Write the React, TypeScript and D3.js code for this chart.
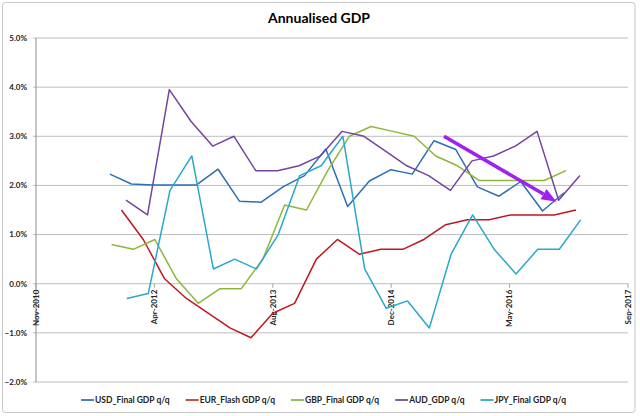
import { useRef, useEffect } from 'react';
import * as d3 from 'd3';

const W = 640;
const H = 416;

const SERIES_NAMES = ['USD_Final GDP q/q', 'EUR_Flash GDP q/q', 'GBP_Final GDP q/q', 'AUD_GDP q/q', 'JPY_Final GDP q/q'];
const SERIES_COLORS = ['#2C6FB7', '#C0171F', '#8DB73A', '#7444A0', '#2AA8CA'];
const LEGEND_COLORS = ['#4F81BD', '#C0504D', '#9BBB59', '#8064A2', '#4BACC6'];
// release date of the first print of each series, then one print per quarter
const FIRST_RELEASE = ['2011-09-28', '2011-11-16', '2011-10-05', '2011-12-05', '2011-12-08'];

const USD = [2.23, 2.03, 2.01, 2.01, 2.01, 2.33, 1.68, 1.66, 1.97, 2.2, 2.74, 1.57, 2.09, 2.32, 2.23, 2.91, 2.73, 1.97, 1.78, 2.08, 1.48, 1.85];
const EUR = [1.5, 0.9, 0.1, -0.3, -0.6, -0.9, -1.1, -0.6, -0.4, 0.5, 0.9, 0.6, 0.7, 0.7, 0.9, 1.2, 1.3, 1.3, 1.4, 1.4, 1.4, 1.5];
const GBP = [0.8, 0.7, 0.9, 0.1, -0.4, -0.1, -0.1, 0.5, 1.6, 1.5, 2.3, 3.0, 3.2, 3.1, 3.0, 2.6, 2.4, 2.1, 2.1, 2.1, 2.1, 2.3];
const AUD = [1.7, 1.4, 3.95, 3.3, 2.8, 3.0, 2.3, 2.3, 2.4, 2.6, 3.1, 3.0, 2.7, 2.4, 2.2, 1.9, 2.5, 2.6, 2.8, 3.1, 1.7, 2.2];
const JPY = [-0.3, -0.2, 1.9, 2.6, 0.3, 0.5, 0.3, 1.0, 2.2, 2.4, 3.0, 0.3, -0.5, -0.35, -0.9, 0.6, 1.4, 0.7, 0.2, 0.7, 0.7, 1.3];
const SERIES_VALUES = [USD, EUR, GBP, AUD, JPY];

const X_TICKS = ['2010-11-20', '2012-04-03', '2013-08-16', '2014-12-29', '2016-05-12', '2017-09-24'];
const Y_TICKS = [5, 4, 3, 2, 1, 0, -1, -2];

// hand-drawn trend arrow, in data coordinates
const ARROW_FROM = { date: '2015-08-09', value: 3.0 };
const ARROW_TO = { date: '2016-11-26', value: 1.67 };

const FONT = 'Lato, "Open Sans", sans-serif';

export default function App() {
  const ref = useRef<SVGSVGElement>(null);

  useEffect(() => {
    if (!ref.current) return;
    const svg = d3.select(ref.current);
    svg.selectAll('*').remove();

    const margin = { top: 38, right: 12, bottom: 34, left: 36 };
    const parse = d3.utcParse('%Y-%m-%d');

    const x = d3.scaleUtc()
      .domain([parse(X_TICKS[0])!, parse(X_TICKS[X_TICKS.length - 1])!])
      .range([margin.left, W - margin.right]);
    const y = d3.scaleLinear()
      .domain([-2, 5])
      .range([H - margin.bottom, margin.top]);

    svg.append('rect')
      .attr('width', W).attr('height', H).attr('fill', '#fff');
    svg.append('rect')
      .attr('x', 2.5).attr('y', 2.5)
      .attr('width', 632.5).attr('height', 410)
      .attr('rx', 3)
      .attr('fill', '#fff')
      .attr('stroke', '#C8C8C8');

    // Title
    svg.append('text')
      .attr('x', 319).attr('y', 23)
      .attr('text-anchor', 'middle')
      .attr('font-family', FONT)
      .attr('font-weight', 'bold')
      .attr('font-size', 14)
      .attr('fill', '#000')
      .text('Annualised GDP');

    // Gridlines + y labels
    const gy = svg.append('g');
    gy.selectAll('line')
      .data(Y_TICKS)
      .join('line')
      .attr('x1', margin.left - 3)
      .attr('x2', W - margin.right)
      .attr('y1', d => y(d))
      .attr('y2', d => y(d))
      .attr('stroke', '#BEBEBE')
      .attr('stroke-width', 1);
    gy.selectAll('text')
      .data(Y_TICKS)
      .join('text')
      .attr('x', margin.left - 9)
      .attr('y', d => y(d))
      .attr('dy', '0.35em')
      .attr('text-anchor', 'end')
      .attr('font-family', FONT)
      .attr('font-weight', 'bold')
      .attr('font-size', 8)
      .attr('fill', '#222')
      .text(d => d3.format('.1f')(d) + '%');

    // y axis line
    svg.append('line')
      .attr('x1', margin.left).attr('x2', margin.left)
      .attr('y1', margin.top).attr('y2', H - margin.bottom)
      .attr('stroke', '#8C8C8C');

    // x ticks + labels (rotated)
    const gx = svg.append('g');
    gx.selectAll('line')
      .data(X_TICKS)
      .join('line')
      .attr('x1', d => x(parse(d)!))
      .attr('x2', d => x(parse(d)!))
      .attr('y1', y(0))
      .attr('y2', y(0) + 4)
      .attr('stroke', '#A0A0A0');
    gx.selectAll('text')
      .data(X_TICKS)
      .join('text')
      .attr('transform', d => `translate(${x(parse(d)!)},${y(0) + 6}) rotate(-90)`)
      .attr('dy', '0.35em')
      .attr('text-anchor', 'end')
      .attr('font-family', FONT)
      .attr('font-weight', 'bold')
      .attr('font-size', 8)
      .attr('fill', '#222')
      .text(d => d3.utcFormat('%b-%Y')(parse(d)!));

    // Lines
    const line = d3.line<{ date: Date; value: number }>()
      .x(d => x(d.date))
      .y(d => y(d.value));
    SERIES_VALUES.forEach((vals, si) => {
      const first = parse(FIRST_RELEASE[si])!;
      const pts = vals.map((v, i) => ({ date: d3.utcMonth.offset(first, 3 * i), value: v }));
      svg.append('path')
        .datum(pts)
        .attr('d', line)
        .attr('fill', 'none')
        .attr('stroke', SERIES_COLORS[si])
        .attr('stroke-width', 1.5)
        .attr('stroke-linejoin', 'round');
    });

    // Trend arrow
    const ax1 = x(parse(ARROW_FROM.date)!), ay1 = y(ARROW_FROM.value);
    const ax2 = x(parse(ARROW_TO.date)!), ay2 = y(ARROW_TO.value);
    const ang = Math.atan2(ay2 - ay1, ax2 - ax1);
    const headLen = 15, headW = 6;
    const bx = ax2 - headLen * Math.cos(ang), by = ay2 - headLen * Math.sin(ang);
    svg.append('line')
      .attr('x1', ax1).attr('y1', ay1)
      .attr('x2', bx).attr('y2', by)
      .attr('stroke', '#A020F0')
      .attr('stroke-width', 3.5);
    svg.append('path')
      .attr('d', `M${ax2},${ay2}L${bx + headW * Math.sin(ang)},${by - headW * Math.cos(ang)}L${bx - headW * Math.sin(ang)},${by + headW * Math.cos(ang)}Z`)
      .attr('fill', '#A020F0');

    // Legend
    const lg = svg.append('g');
    const items = SERIES_NAMES.map((name, i) => {
      const g = lg.append('g');
      g.append('line')
        .attr('x1', 0).attr('x2', 13)
        .attr('y1', 400).attr('y2', 400)
        .attr('stroke', LEGEND_COLORS[i])
        .attr('stroke-width', 2);
      const t = g.append('text')
        .attr('x', 14).attr('y', 400)
        .attr('dy', '0.35em')
        .attr('font-family', FONT)
        .attr('font-weight', 'bold')
        .attr('font-size', 8.5)
        .attr('fill', '#222')
        .text(name);
      const w = 14 + (t.node() as SVGTextElement).getComputedTextLength();
      return { g, w };
    });
    const gap = 16;
    const total = d3.sum(items, d => d.w) + gap * (items.length - 1);
    let cx = 323.5 - total / 2;
    items.forEach(it => {
      it.g.attr('transform', `translate(${cx},0)`);
      cx += it.w + gap;
    });
  }, []);

  return (
    <svg
      ref={ref}
      width={W}
      height={H}
      style={{ position: 'absolute', left: 0, top: 0, display: 'block' }}
    />
  );
}
